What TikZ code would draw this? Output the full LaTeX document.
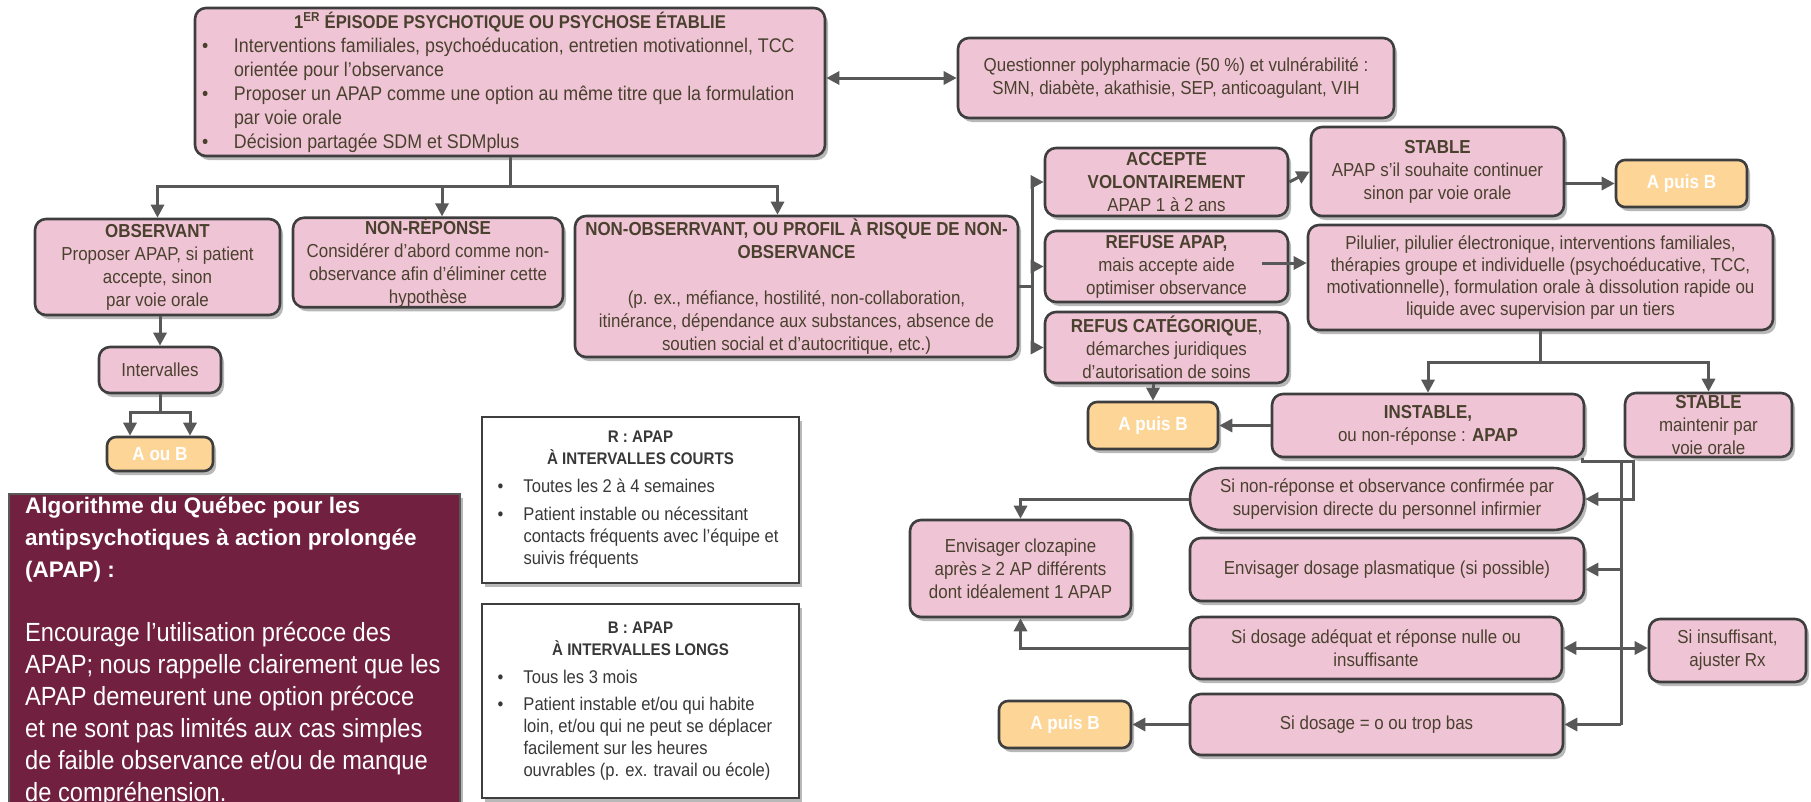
\documentclass[tikz,border=0pt]{standalone}
\usepackage{fontspec}
\setmainfont{Liberation Sans}[FakeStretch=0.9]
\newfontfamily\headfont{Liberation Sans}
\usetikzlibrary{arrows.meta,shadows,calc}
\newcommand\myfs[2]{\fontsize{#1}{#2}\selectfont}
\newcommand\mhead{\headfont\bfseries\myfs{22.5}{32}}
\definecolor{pinkf}{RGB}{239,197,214}
\definecolor{bordc}{RGB}{62,62,62}
\definecolor{txtc}{RGB}{74,64,46}
\definecolor{linec}{RGB}{88,88,88}
\definecolor{orangef}{RGB}{253,213,151}
\definecolor{maroonf}{RGB}{113,32,63}
\tikzset{
  shad/.style={drop shadow={shadow xshift=3pt,shadow yshift=-4pt,opacity=0.28,fill=black}},
  pbox/.style={shad, draw=bordc, fill=pinkf, line width=2.6pt, rounded corners=11pt, text=txtc, inner sep=0pt, align=center, font=\myfs{18.8}{23}},
  obox/.style={shad, draw=bordc, fill=orangef, line width=2.6pt, rounded corners=9pt, text=white, inner sep=0pt, font=\bfseries\myfs{19}{23}},
  wbox/.style={shad, draw=bordc, fill=white, line width=2pt, inner sep=0pt, text=black!78, align=left, font=\myfs{18.4}{22}},
  conn/.style={draw=linec, line width=3pt},
  arr/.style={conn, -{Triangle[length=13pt,width=13pt]}},
  darr/.style={conn, {Triangle[length=13pt,width=13pt]}-{Triangle[length=13pt,width=13pt]}},
}
\begin{document}
\begin{tikzpicture}[x=1pt,y=-1pt]
\useasboundingbox (0,0) rectangle (1811,801);

% ---------- top ----------
\node[pbox, minimum width=630pt, minimum height=148pt, align=left, font=\myfs{19.8}{24}] (top) at (510,82) {%
\makebox[616pt][c]{\bfseries\myfs{18.5}{24}1\textsuperscript{ER} ÉPISODE PSYCHOTIQUE OU PSYCHOSE ÉTABLIE}\\
\makebox[32pt][l]{•}Interventions familiales, psychoéducation, entretien motivationnel, TCC\\
\hspace*{32pt}orientée pour l’observance\\
\makebox[32pt][l]{•}Proposer un APAP comme une option au même titre que la formulation\\
\hspace*{32pt}par voie orale\\
\makebox[32pt][l]{•}Décision partagée SDM et SDMplus};

\node[pbox, minimum width=436pt, minimum height=80pt] (poly) at (1176,78)
  {Questionner polypharmacie (50 \%) et vulnérabilité :\\SMN, diabète, akathisie, SEP, anticoagulant, VIH};

% ---------- second row ----------
\node[pbox, minimum width=245pt, minimum height=96pt] (obs) at (157.5,267)
  {\textbf{OBSERVANT}\\Proposer APAP, si patient\\accepte, sinon\\par voie orale};
\node[pbox, minimum width=270pt, minimum height=89pt] (nonrep) at (428,262.5)
  {\textbf{NON-RÉPONSE}\\Considérer d’abord comme non-\\observance afin d’éliminer cette\\hypothèse};
\node[pbox, minimum width=443pt, minimum height=141pt] (nonobs) at (796.5,286.5)
  {\textbf{NON-OBSERRVANT, OU PROFIL À RISQUE DE NON-}\\\textbf{OBSERVANCE}\\[23pt](p. ex., méfiance, hostilité, non-collaboration,\\itinérance, dépendance aux substances, absence de\\soutien social et d’autocritique, etc.)};

\node[pbox, minimum width=122pt, minimum height=46pt] (interv) at (160,370) {Intervalles};
\node[obox, minimum width=106pt, minimum height=34pt] (aouB) at (160,454) {A ou B};

% ---------- right column ----------
\node[pbox, minimum width=243pt, minimum height=68pt] (accept) at (1166.5,182)
  {\textbf{ACCEPTE}\\\textbf{VOLONTAIREMENT}\\APAP 1 à 2 ans};
\node[pbox, minimum width=253pt, minimum height=89pt] (stable1) at (1437.5,171.5)
  {\textbf{STABLE}\\APAP s’il souhaite continuer\\sinon par voie orale};
\node[obox, minimum width=131pt, minimum height=47pt] (apb1) at (1681.5,183.5) {A puis B};

\node[pbox, minimum width=243pt, minimum height=71pt] (refuse) at (1166.5,266.5)
  {\textbf{REFUSE APAP,}\\mais accepte aide\\optimiser observance};
\node[pbox, minimum width=465pt, minimum height=105pt, font=\myfs{18.8}{22}] (pil) at (1540.5,277.5)
  {Pilulier, pilulier électronique, interventions familiales,\\thérapies groupe et individuelle (psychoéducative, TCC,\\motivationnelle), formulation orale à dissolution rapide ou\\liquide avec supervision par un tiers};
\node[pbox, minimum width=243pt, minimum height=71pt] (refcat) at (1166.5,347.5)
  {\textbf{REFUS CATÉGORIQUE},\\démarches juridiques\\d’autorisation de soins};

\node[obox, minimum width=130pt, minimum height=47pt] (apb2) at (1153,425.5) {A puis B};
\node[pbox, minimum width=312pt, minimum height=63pt] (instable) at (1428,425.5)
  {\textbf{INSTABLE,}\\ou non-réponse : \textbf{APAP}};
\node[pbox, minimum width=167pt, minimum height=64pt] (stable2) at (1708.5,425)
  {\textbf{STABLE}\\maintenir par\\voie orale};

\node[pbox, minimum width=394pt, minimum height=62pt, rounded corners=31pt] (pill) at (1387,499)
  {Si non-réponse et observance confirmée par\\supervision directe du personnel infirmier};
\node[pbox, minimum width=394pt, minimum height=63pt] (plasma) at (1387,569.5)
  {Envisager dosage plasmatique (si possible)};
\node[pbox, minimum width=372pt, minimum height=62pt] (adequat) at (1376,648)
  {Si dosage adéquat et réponse nulle ou\\insuffisante};
\node[pbox, minimum width=157pt, minimum height=63pt] (insuf) at (1727.5,650.5)
  {Si insuffisant,\\ajuster Rx};
\node[pbox, minimum width=373pt, minimum height=61pt] (dosage0) at (1376.5,724.5)
  {Si dosage = o ou trop bas};
\node[obox, minimum width=132pt, minimum height=47pt] (apb3) at (1065,724.5) {A puis B};
\node[pbox, minimum width=221pt, minimum height=97pt] (cloz) at (1020.5,568.5)
  {Envisager clozapine\\après ≥ 2 AP différents\\dont idéalement 1 APAP};

% ---------- legend boxes ----------
\node[wbox, minimum width=317pt, minimum height=166pt] (rbox) at (640.5,500) {%
\makebox[286pt][c]{\bfseries\myfs{16.8}{22}R : APAP}\\
\makebox[286pt][c]{\bfseries\myfs{16.8}{22}À INTERVALLES COURTS}\\[6pt]
\makebox[26pt][l]{•}Toutes les 2 à 4 semaines\\[6pt]
\makebox[26pt][l]{•}Patient instable ou nécessitant\\
\hspace*{26pt}contacts fréquents avec l’équipe et\\
\hspace*{26pt}suivis fréquents};
\node[wbox, minimum width=317pt, minimum height=194pt] (bbox) at (640.5,701) {%
\makebox[286pt][c]{\bfseries\myfs{16.8}{22}B : APAP}\\
\makebox[286pt][c]{\bfseries\myfs{16.8}{22}À INTERVALLES LONGS}\\[6pt]
\makebox[26pt][l]{•}Tous les 3 mois\\[5pt]
\makebox[26pt][l]{•}Patient instable et/ou qui habite\\
\hspace*{26pt}loin, et/ou qui ne peut se déplacer\\
\hspace*{26pt}facilement sur les heures\\
\hspace*{26pt}ouvrables (p. ex. travail ou école)};

% ---------- maroon panel ----------
\node[shad, fill=maroonf, draw=black!65, line width=2pt, minimum width=451pt, minimum height=340pt, inner sep=0pt] (maroon) at (234.5,664) {};
\node[anchor=north west, inner sep=0pt, align=left, text=white, font=\myfs{26.3}{32}] (mtxt) at (25,497) {%
\mhead Algorithme du Québec pour les\\
\mhead antipsychotiques à action prolongée\\
\mhead (APAP) :\\[32pt]
Encourage l’utilisation précoce des\\
APAP; nous rappelle clairement que les\\
APAP demeurent une option précoce\\
et ne sont pas limités aux cas simples\\
de faible observance et/ou de manque\\
de compréhension.};

% ---------- hub coordinates ----------
\coordinate (hub1) at (510,186);
\coordinate (hub2) at (1032,286.5);
\coordinate (hub3) at (1540.5,362);
\coordinate (hub4) at (160,412);
\coordinate (loopc) at (1633,461);
\coordinate (trunk) at (1621,461);
\coordinate (rs) at (1262,263);

% ---------- connectors ----------
\draw[darr] (top.east |- poly.west) -- (poly.west);
\draw[conn] (top.south) -- (hub1);
\draw[arr] (hub1) -| (obs.north);
\draw[arr] (hub1) -| ([xshift=14pt]nonrep.north);
\draw[arr] (hub1) -| ([xshift=-19pt]nonobs.north);

\draw[arr] (interv.north |- obs.south) -- (interv.north);
\draw[conn] (interv.south) -- (hub4);
\draw[arr] (hub4) -| ([xshift=-30pt]aouB.north);
\draw[arr] (hub4) -| ([xshift=30pt]aouB.north);

\draw[conn] (nonobs.east) -- (hub2);
\draw[arr] (hub2) |- (accept.west);
\draw[arr] (hub2) |- (refuse.west);
\draw[arr] (hub2) |- (refcat.west);

\draw[arr] (accept.east) -- (stable1.west);
\draw[arr] (stable1.east |- apb1.west) -- (apb1.west);
\draw[arr] (rs) -- (pil.west |- rs);
\draw[arr] (apb2.north |- refcat.south) -- (apb2.north);

\draw[conn] (pil.south) -- (hub3);
\draw[arr] (hub3) -| (instable.north);
\draw[arr] (hub3) -| (stable2.north);
\draw[arr] (instable.west) -- (apb2.east);

\draw[arr] ([xshift=-3pt]instable.south east) |- (loopc) |- (pill.east);
\draw[conn] (trunk) -- (trunk |- dosage0.east);
\draw[arr] (trunk |- plasma.east) -- (plasma.east);
\draw[arr] (trunk |- dosage0.east) -- (dosage0.east);
\draw[darr] (adequat.east) -- (insuf.west |- adequat.east);

\draw[arr] (pill.west) -| (cloz.north);
\draw[arr] (adequat.west) -| (cloz.south);
\draw[arr] (dosage0.west) -- (apb3.east);
\end{tikzpicture}
\end{document}
